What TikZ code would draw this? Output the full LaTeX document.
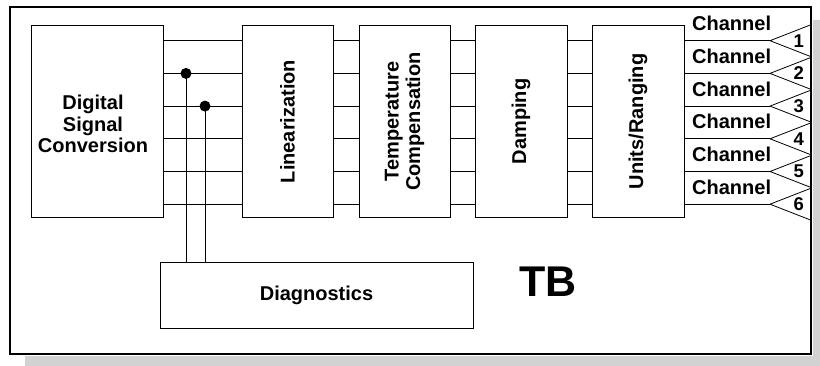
\documentclass[tikz,border=0pt]{standalone}
\usepackage{fontspec}
\setmainfont{Liberation Sans}
\begin{document}
\begin{tikzpicture}[x=1pt,y=-1pt,
  box/.style={draw, line width=0.9pt, inner sep=0pt, fill=white},
  wire/.style={line width=0.8pt},
  lbl/.style={font=\fontsize{20}{21.5}\selectfont\bfseries, align=center, inner sep=0pt},
  num/.style={font=\fontsize{18.5}{18.5}\selectfont\bfseries, inner sep=0pt, anchor=east},
  dot/.style={circle, fill=black, inner sep=0pt, minimum size=11pt}]
\useasboundingbox (0,0) rectangle (820,366);
% shadow
\fill[gray!35] (813,20) -- (820,20) -- (820,366) -- (25,366) -- (25,356) -- (813,356) -- cycle;
% frame
\node[draw, line width=2.5pt, fill=white, minimum width=801pt, minimum height=347pt, inner sep=0pt] (frame) at (410.5,180.5) {};
% level coordinates
\foreach \i in {1,...,6} {
  \coordinate (l\i) at (0,{40.7+32.7*(\i-1)});
}
% boxes
\node[box, minimum width=132pt, minimum height=192pt] (dsc) at (97,121.5) {};
\node[lbl] (dsctext) at (93,124) {Digital\\Signal\\Conversion};
\node[box, minimum width=91pt, minimum height=192pt] (lin) at (287.5,121.5) {};
\node[lbl, rotate=90] (lintext) at (lin) {Linearization};
\node[box, minimum width=91pt, minimum height=192pt] (tc) at (404.5,121.5) {};
\node[lbl, rotate=90] (tctext) at (tc) {Temperature\\Compensation};
\node[box, minimum width=92pt, minimum height=192pt] (damp) at (521,121.5) {};
\node[lbl, rotate=90] (damptext) at (damp) {Damping};
\node[box, minimum width=92pt, minimum height=192pt] (ur) at (638,121.5) {};
\node[lbl, rotate=90] (urtext) at (ur) {Units/Ranging};
\node[box, minimum width=313pt, minimum height=66pt] (diag) at (316.5,295) {};
\node[lbl] (diagtext) at (diag) {Diagnostics};
\node[font=\fontsize{43}{43}\selectfont\bfseries, inner sep=0pt] (tb) at (548,282) {TB};
% wires between boxes
\foreach \i in {1,...,6} {
  \draw[wire] (dsc.east |- l\i) -- (lin.west |- l\i);
  \draw[wire] (lin.east |- l\i) -- (tc.west |- l\i);
  \draw[wire] (tc.east |- l\i) -- (damp.west |- l\i);
  \draw[wire] (damp.east |- l\i) -- (ur.west |- l\i);
  \coordinate (apex\i) at (770,{40.7+32.7*(\i-1)});
  \coordinate (ta\i) at (810,{40.7+32.7*(\i-1)-15.6});
  \coordinate (tb\i) at (810,{40.7+32.7*(\i-1)+15.6});
  \draw[wire] (ur.east |- l\i) -- (apex\i);
  \draw[wire] (ta\i) -- (apex\i) -- (tb\i);
  \node[lbl, anchor=base west] (ch\i) at (692,{40.7+32.7*(\i-1)-10}) {Channel};
  \node[num] (n\i) at (804,{40.7+32.7*(\i-1)}) {\i};
}
% junctions to diagnostics
\coordinate (j1) at (186,{40.7+32.7});
\coordinate (j2) at (205,{40.7+2*32.7});
\draw[wire] (j1) -- (j1 |- diag.north);
\draw[wire] (j2) -- (j2 |- diag.north);
\node[dot] (d1) at (j1) {};
\node[dot] (d2) at (j2) {};
\end{tikzpicture}
\end{document}
